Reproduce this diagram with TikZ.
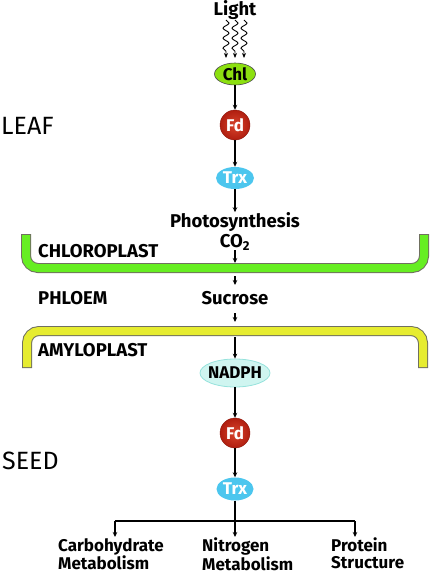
\documentclass[tikz,border=0pt]{standalone}
\usepackage{fontspec}
\setmainfont{Fira Sans}
\usetikzlibrary{arrows.meta,shapes.geometric,decorations.pathmorphing}
\definecolor{chlgreen}{HTML}{8CE010}
\definecolor{fdred}{HTML}{B01E10}
\definecolor{fdlight}{HTML}{D8442C}
\definecolor{trxcyan}{HTML}{4CC6EE}
\definecolor{nadfill}{HTML}{CFF5F0}
\definecolor{nadline}{HTML}{96E2DC}
\definecolor{cpgreen}{HTML}{66EE22}
\definecolor{amyyellow}{HTML}{E6EC30}
\definecolor{edge}{HTML}{707060}
\tikzset{
  lbl/.style={font=\fontsize{18.5}{20}\selectfont\bfseries, inner sep=0pt},
  big/.style={font=\fontsize{25}{28}\selectfont, inner sep=0pt, anchor=west},
  arr/.style={line width=1.1pt, -{Stealth[length=5pt,width=4.5pt]}},
  wave/.style={line width=0.9pt, decorate, decoration={snake, amplitude=3pt, segment length=10pt, post length=5pt}, -{Stealth[length=5pt,width=4pt]}},
  oval/.style={ellipse, inner sep=0pt, font=\fontsize{17}{18}\selectfont\bfseries},
  ball/.style={circle, inner sep=0pt, minimum size=30pt, inner color=fdlight, outer color=fdred, draw=fdred!80!black, line width=0.4pt, text=white, font=\fontsize{17}{18}\selectfont\bfseries},
  bracketedge/.style={line width=10pt, draw=edge, rounded corners=12pt},
  bracketfill/.style={line width=8pt, rounded corners=12pt},
  outtxt/.style={inner sep=0pt, anchor=north west, align=left, font=\fontsize{17}{16.5}\selectfont\bfseries}
}
\newcommand{\zw}[1]{\makebox[0pt]{#1}}
\begin{document}
\begin{tikzpicture}[x=1pt,y=-1pt]
\useasboundingbox (0,0) rectangle (429,576);
% brackets
\draw[bracketedge] (26,234) -- (26,268) -- (424,268) -- (424,234);
\draw[bracketfill, draw=cpgreen] (26,235) -- (26,268) -- (424,268) -- (424,235);
\draw[bracketedge] (27,368) -- (27,331) -- (423,331) -- (423,368);
\draw[bracketfill, draw=amyyellow] (27,367) -- (27,331) -- (423,331) -- (423,367);

% top chain
\node[lbl] (light) at (235,10) {Light};
\coordinate (w1s) at (226,20); \coordinate (w1e) at (226,58);
\coordinate (w2s) at (235,20); \coordinate (w2e) at (235,58);
\coordinate (w3s) at (244,20); \coordinate (w3e) at (244,58);
\draw[wave] (w1s) -- (w1e);
\draw[wave] (w2s) -- (w2e);
\draw[wave] (w3s) -- (w3e);
\node[oval, fill=chlgreen, draw=black!70, line width=0.6pt, minimum width=41pt, minimum height=22pt] (chl) at (235,74) {\zw{Chl}};
\node[ball] (fd1) at (235,125) {\zw{Fd}};
\node[oval, fill=trxcyan, text=white, minimum width=38pt, minimum height=22pt] (trx1) at (235,178) {\zw{Trx}};
\node[lbl] (photo) at (235,222) {Photosynthesis};
\node[lbl] (co2) at (235,242) {CO\textsubscript{2}};
\node[lbl] (sucrose) at (235,298) {Sucrose};
\node[oval, fill=nadfill, draw=nadline, line width=0.8pt, minimum width=70pt, minimum height=28pt] (nadph) at (235,373) {\zw{NADPH}};
\node[ball] (fd2) at (235,433) {\zw{Fd}};
\node[oval, fill=trxcyan, text=white, minimum width=37pt, minimum height=23pt] (trx2) at (235,489) {\zw{Trx}};

\draw[arr] (chl) -- (fd1);
\draw[arr] (fd1) -- (trx1);
\draw[arr] (trx1) -- (photo);
\coordinate (a1) at (235,263);
\coordinate (b1s) at (235,276); \coordinate (b1e) at (235,285);
\draw[arr] (co2) -- (a1);
\draw[arr] (b1s) -- (b1e);
\coordinate (c1s) at (235,313);
\coordinate (c1e) at (235,322);
\draw[arr] (c1s) -- (c1e);
\coordinate (d1s) at (235,337);
\draw[arr] (d1s) -- (nadph);
\draw[arr] (nadph) -- (fd2);
\draw[arr] (fd2) -- (trx2);

% side labels
\node[big] (leaf) at (1,126) {LEAF};
\node[big] (seed) at (2,461) {SEED};
\node[lbl, anchor=west] (cp) at (38,251) {CHLOROPLAST};
\node[lbl, anchor=west] (ph) at (38,298) {PHLOEM};
\node[lbl, anchor=west] (am) at (38,350) {AMYLOPLAST};

% branching
\coordinate (j) at (235,521);
\coordinate (jl) at (115,521);
\coordinate (jr) at (355,521);
\coordinate (el) at (115,537);
\coordinate (em) at (235,537);
\coordinate (er) at (355,537);
\draw[line width=1.1pt] (trx2) -- (j);
\draw[line width=1.1pt] (jl) -- (jr);
\draw[arr] (jl) -- (el);
\draw[arr] (j) -- (em);
\draw[arr] (jr) -- (er);
\node[outtxt] (carb) at (58,538) {Carbohydrate\\Metabolism};
\node[outtxt] (nitro) at (202,538) {Nitrogen\\Metabolism};
\node[outtxt] (prot) at (331,538) {Protein\\Structure};
\end{tikzpicture}
\end{document}
